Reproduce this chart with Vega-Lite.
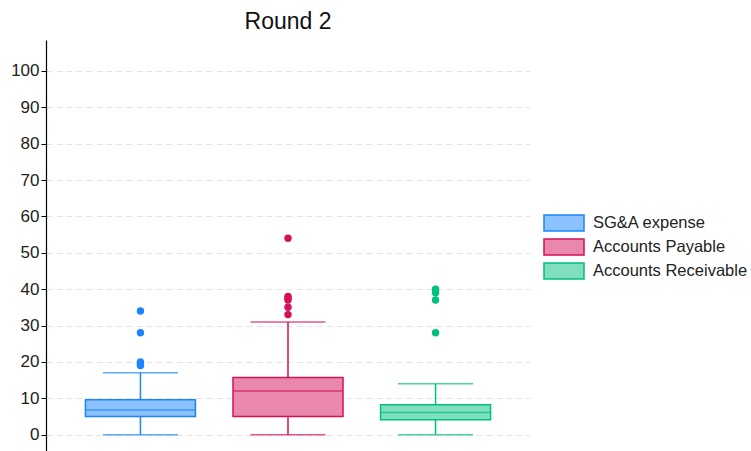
{
  "$schema": "https://vega.github.io/schema/vega-lite/v6.json",
  "autosize": "none",
  "width": 484,
  "height": 411,
  "padding": {"left": 46, "top": 40, "right": 221, "bottom": 0},
  "background": "white",
  "title": {"text": "Round 2", "fontSize": 23, "font": "Liberation Sans", "fontWeight": "normal", "color": "#111", "anchor": "middle", "offset": 6},
  "config": {
    "font": "Liberation Sans",
    "view": {"stroke": null}
  },
  "datasets": {
    "stats": [
      {"variable": "SG&A expense", "lower": 0, "q1": 5.0, "median": 6.8, "q3": 9.6, "upper": 17},
      {"variable": "Accounts Payable", "lower": 0, "q1": 5.0, "median": 12.0, "q3": 15.7, "upper": 31},
      {"variable": "Accounts Receivable", "lower": 0, "q1": 4.1, "median": 6.1, "q3": 8.2, "upper": 14}
    ],
    "outliers": [
      {"variable": "SG&A expense", "value": 34},
      {"variable": "SG&A expense", "value": 28},
      {"variable": "SG&A expense", "value": 20},
      {"variable": "SG&A expense", "value": 19.5},
      {"variable": "SG&A expense", "value": 19},
      {"variable": "Accounts Payable", "value": 54},
      {"variable": "Accounts Payable", "value": 38},
      {"variable": "Accounts Payable", "value": 37.5},
      {"variable": "Accounts Payable", "value": 37},
      {"variable": "Accounts Payable", "value": 35},
      {"variable": "Accounts Payable", "value": 33},
      {"variable": "Accounts Receivable", "value": 40},
      {"variable": "Accounts Receivable", "value": 39},
      {"variable": "Accounts Receivable", "value": 37},
      {"variable": "Accounts Receivable", "value": 28}
    ]
  },
  "encoding": {
    "x": {
      "field": "variable", "type": "nominal",
      "sort": ["SG&A expense", "Accounts Payable", "Accounts Receivable"],
      "scale": {"paddingInner": 0.25, "paddingOuter": 0.265},
      "axis": null
    }
  },
  "layer": [
    {
      "data": {"name": "stats"},
      "mark": {"type": "rule", "strokeWidth": 1.5},
      "encoding": {
        "y": {"field": "lower", "type": "quantitative", "scale": {"domain": [-4.5, 108.5], "nice": false, "zero": false},
          "axis": {"values": [0,10,20,30,40,50,60,70,80,90,100], "title": null, "grid": true, "gridDash": [6,4], "gridColor": "#e3e3e3", "gridWidth": 1, "domainColor": "#000", "domainWidth": 1.2, "tickColor": "#000", "tickSize": 5, "labelFontSize": 17, "labelColor": "#222", "labelPadding": 2}},
        "y2": {"field": "upper"},
        "color": {"field": "variable", "type": "nominal", "legend": null,
          "scale": {"domain": ["SG&A expense", "Accounts Payable", "Accounts Receivable"], "range": ["#1a85ff", "#d41159", "#00bf7f"]}}
      }
    },
    {
      "data": {"name": "stats"},
      "mark": {"type": "tick", "thickness": 1.5, "size": 75, "orient": "horizontal"},
      "encoding": {
        "y": {"field": "lower", "type": "quantitative"},
        "color": {"field": "variable", "type": "nominal", "legend": null}
      }
    },
    {
      "data": {"name": "stats"},
      "mark": {"type": "tick", "thickness": 1.5, "size": 75, "orient": "horizontal"},
      "encoding": {
        "y": {"field": "upper", "type": "quantitative"},
        "color": {"field": "variable", "type": "nominal", "legend": null}
      }
    },
    {
      "data": {"name": "stats"},
      "mark": {"type": "bar", "size": 110, "strokeWidth": 1.5},
      "encoding": {
        "y": {"field": "q1", "type": "quantitative"},
        "y2": {"field": "q3"},
        "fill": {"field": "variable", "type": "nominal",
          "sort": ["SG&A expense", "Accounts Payable", "Accounts Receivable"],
          "scale": {"range": ["#8cc2ff", "#e988ac", "#7fdfbf"]},
          "legend": null},
        "stroke": {"field": "variable", "type": "nominal",
          "sort": ["SG&A expense", "Accounts Payable", "Accounts Receivable"],
          "scale": {"range": ["#1a85ff", "#d41159", "#00bf7f"]},
          "legend": {"title": null, "orient": "none", "legendX": 507, "legendY": 172,
            "symbolType": "M-2,-0.8H2V0.8H-2Z", "symbolSize": 400, "symbolStrokeWidth": 1.5,
            "symbolFillColor": "#8cc2ff",
            "labelFontSize": 16.5, "labelColor": "#222", "labelOffset": 18, "rowPadding": 2, "labelLimit": 300,
            "encode": {"symbols": {"update": {"fill": {"signal": "datum.value === 'SG&A expense' ? '#8cc2ff' : datum.value === 'Accounts Payable' ? '#e988ac' : '#7fdfbf'"}, "fillOpacity": {"value": 1}}}}}}
      }
    },
    {
      "data": {"name": "stats"},
      "mark": {"type": "tick", "thickness": 1.5, "size": 110, "orient": "horizontal"},
      "encoding": {
        "y": {"field": "median", "type": "quantitative"},
        "color": {"field": "variable", "type": "nominal", "legend": null}
      }
    },
    {
      "data": {"name": "outliers"},
      "mark": {"type": "circle", "size": 55, "opacity": 1},
      "encoding": {
        "y": {"field": "value", "type": "quantitative"},
        "color": {"field": "variable", "type": "nominal", "legend": null}
      }
    }
  ]
}
